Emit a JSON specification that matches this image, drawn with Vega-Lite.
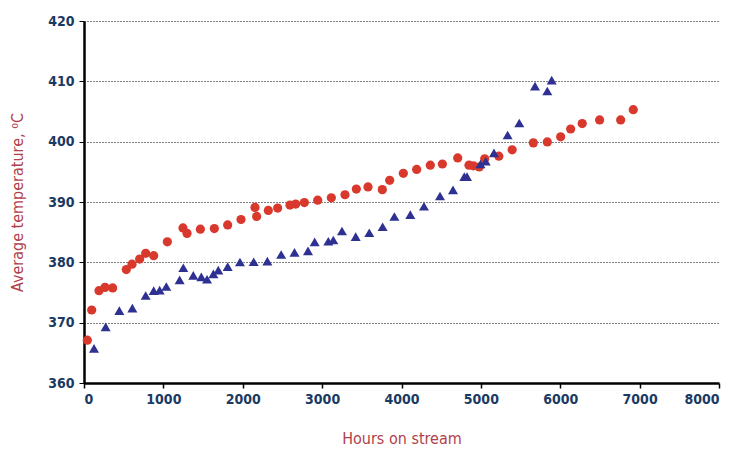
{
  "$schema": "https://vega.github.io/schema/vega-lite/v6.json",
  "width": 635,
  "height": 362,
  "autosize": "none",
  "padding": {"left": 84, "top": 21, "right": 15, "bottom": 67},
  "config": {
    "view": {"stroke": null},
    "font": "'DejaVu Sans Condensed', Roboto, sans-serif"
  },
  "data": {
    "values": [
      {"h": 42, "t": 367.1, "s": "A"},
      {"h": 97, "t": 372.1, "s": "A"},
      {"h": 189, "t": 375.3, "s": "A"},
      {"h": 265, "t": 375.85, "s": "A"},
      {"h": 361, "t": 375.75, "s": "A"},
      {"h": 533, "t": 378.8, "s": "A"},
      {"h": 605, "t": 379.7, "s": "A"},
      {"h": 701, "t": 380.55, "s": "A"},
      {"h": 777, "t": 381.5, "s": "A"},
      {"h": 878, "t": 381.1, "s": "A"},
      {"h": 1050, "t": 383.4, "s": "A"},
      {"h": 1247, "t": 385.7, "s": "A"},
      {"h": 1298, "t": 384.8, "s": "A"},
      {"h": 1466, "t": 385.5, "s": "A"},
      {"h": 1642, "t": 385.6, "s": "A"},
      {"h": 1810, "t": 386.2, "s": "A"},
      {"h": 1978, "t": 387.1, "s": "A"},
      {"h": 2154, "t": 389.1, "s": "A"},
      {"h": 2175, "t": 387.6, "s": "A"},
      {"h": 2322, "t": 388.6, "s": "A"},
      {"h": 2440, "t": 389.0, "s": "A"},
      {"h": 2595, "t": 389.5, "s": "A"},
      {"h": 2667, "t": 389.65, "s": "A"},
      {"h": 2776, "t": 389.9, "s": "A"},
      {"h": 2944, "t": 390.3, "s": "A"},
      {"h": 3116, "t": 390.7, "s": "A"},
      {"h": 3288, "t": 391.2, "s": "A"},
      {"h": 3431, "t": 392.15, "s": "A"},
      {"h": 3578, "t": 392.5, "s": "A"},
      {"h": 3758, "t": 392.05, "s": "A"},
      {"h": 3851, "t": 393.6, "s": "A"},
      {"h": 4023, "t": 394.75, "s": "A"},
      {"h": 4191, "t": 395.4, "s": "A"},
      {"h": 4363, "t": 396.1, "s": "A"},
      {"h": 4515, "t": 396.3, "s": "A"},
      {"h": 4708, "t": 397.3, "s": "A"},
      {"h": 4850, "t": 396.1, "s": "A"},
      {"h": 4905, "t": 396.0, "s": "A"},
      {"h": 4980, "t": 395.8, "s": "A"},
      {"h": 5048, "t": 397.15, "s": "A"},
      {"h": 5226, "t": 397.6, "s": "A"},
      {"h": 5394, "t": 398.65, "s": "A"},
      {"h": 5661, "t": 399.8, "s": "A"},
      {"h": 5837, "t": 399.95, "s": "A"},
      {"h": 6005, "t": 400.8, "s": "A"},
      {"h": 6131, "t": 402.1, "s": "A"},
      {"h": 6277, "t": 403.0, "s": "A"},
      {"h": 6496, "t": 403.6, "s": "A"},
      {"h": 6761, "t": 403.6, "s": "A"},
      {"h": 6920, "t": 405.3, "s": "A"},
      {"h": 126, "t": 365.75, "s": "B"},
      {"h": 273, "t": 369.3, "s": "B"},
      {"h": 445, "t": 372.0, "s": "B"},
      {"h": 609, "t": 372.4, "s": "B"},
      {"h": 777, "t": 374.5, "s": "B"},
      {"h": 878, "t": 375.3, "s": "B"},
      {"h": 953, "t": 375.4, "s": "B"},
      {"h": 1037, "t": 376.0, "s": "B"},
      {"h": 1205, "t": 377.1, "s": "B"},
      {"h": 1251, "t": 379.1, "s": "B"},
      {"h": 1377, "t": 377.85, "s": "B"},
      {"h": 1478, "t": 377.6, "s": "B"},
      {"h": 1550, "t": 377.2, "s": "B"},
      {"h": 1630, "t": 378.1, "s": "B"},
      {"h": 1692, "t": 378.7, "s": "B"},
      {"h": 1810, "t": 379.3, "s": "B"},
      {"h": 1965, "t": 380.05, "s": "B"},
      {"h": 2138, "t": 380.1, "s": "B"},
      {"h": 2310, "t": 380.2, "s": "B"},
      {"h": 2484, "t": 381.3, "s": "B"},
      {"h": 2652, "t": 381.65, "s": "B"},
      {"h": 2822, "t": 381.9, "s": "B"},
      {"h": 2906, "t": 383.4, "s": "B"},
      {"h": 3078, "t": 383.5, "s": "B"},
      {"h": 3141, "t": 383.7, "s": "B"},
      {"h": 3250, "t": 385.2, "s": "B"},
      {"h": 3423, "t": 384.25, "s": "B"},
      {"h": 3594, "t": 384.9, "s": "B"},
      {"h": 3762, "t": 385.9, "s": "B"},
      {"h": 3910, "t": 387.6, "s": "B"},
      {"h": 4111, "t": 387.9, "s": "B"},
      {"h": 4283, "t": 389.3, "s": "B"},
      {"h": 4485, "t": 391.0, "s": "B"},
      {"h": 4649, "t": 392.0, "s": "B"},
      {"h": 4791, "t": 394.2, "s": "B"},
      {"h": 4825, "t": 394.2, "s": "B"},
      {"h": 4995, "t": 396.3, "s": "B"},
      {"h": 5061, "t": 396.75, "s": "B"},
      {"h": 5165, "t": 398.15, "s": "B"},
      {"h": 5337, "t": 401.1, "s": "B"},
      {"h": 5484, "t": 403.1, "s": "B"},
      {"h": 5682, "t": 409.2, "s": "B"},
      {"h": 5837, "t": 408.4, "s": "B"},
      {"h": 5892, "t": 410.2, "s": "B"}
    ]
  },
  "mark": {"type": "point", "filled": true, "opacity": 1},
  "encoding": {
    "x": {
      "field": "h",
      "type": "quantitative",
      "scale": {"domain": [0, 8000], "nice": false, "zero": false},
      "axis": {
        "values": [0, 1000, 2000, 3000, 4000, 5000, 6000, 7000, 8000],
        "format": "d",
        "grid": false,
        "title": "Hours on stream",
        "titleColor": "#b0414b",
        "titleFontSize": 16,
        "titleFontWeight": "normal",
        "titlePadding": 24,
        "labelColor": "#1b3a63",
        "labelFontSize": 14,
        "labelFontWeight": "bold",
        "labelPadding": 4,
        "domainColor": "#000000",
        "domainWidth": 2.5,
        "tickColor": "#000000",
        "tickWidth": 1.5,
        "tickSize": 5
      }
    },
    "y": {
      "field": "t",
      "type": "quantitative",
      "scale": {"domain": [360, 420], "nice": false, "zero": false},
      "axis": {
        "values": [360, 370, 380, 390, 400, 410, 420],
        "format": "d",
        "grid": true,
        "gridColor": "#000000",
        "gridDash": [1, 2],
        "gridWidth": 1,
        "title": "Average temperature, ⁰C",
        "titleColor": "#b0414b",
        "titleFontSize": 16,
        "titleFontWeight": "normal",
        "titlePadding": 22,
        "labelColor": "#1b3a63",
        "labelFontSize": 14,
        "labelFontWeight": "bold",
        "labelPadding": 5,
        "domainColor": "#000000",
        "domainWidth": 2.5,
        "tickColor": "#000000",
        "tickWidth": 1,
        "tickSize": 5
      }
    },
    "color": {
      "field": "s",
      "type": "nominal",
      "scale": {"domain": ["A", "B"], "range": ["#d8392c", "#2e3192"]},
      "legend": null
    },
    "shape": {
      "field": "s",
      "type": "nominal",
      "scale": {"domain": ["A", "B"], "range": ["circle", "triangle-up"]},
      "legend": null
    },
    "size": {
      "field": "s",
      "type": "nominal",
      "scale": {"domain": ["A", "B"], "range": [85, 100]},
      "legend": null
    }
  }
}
